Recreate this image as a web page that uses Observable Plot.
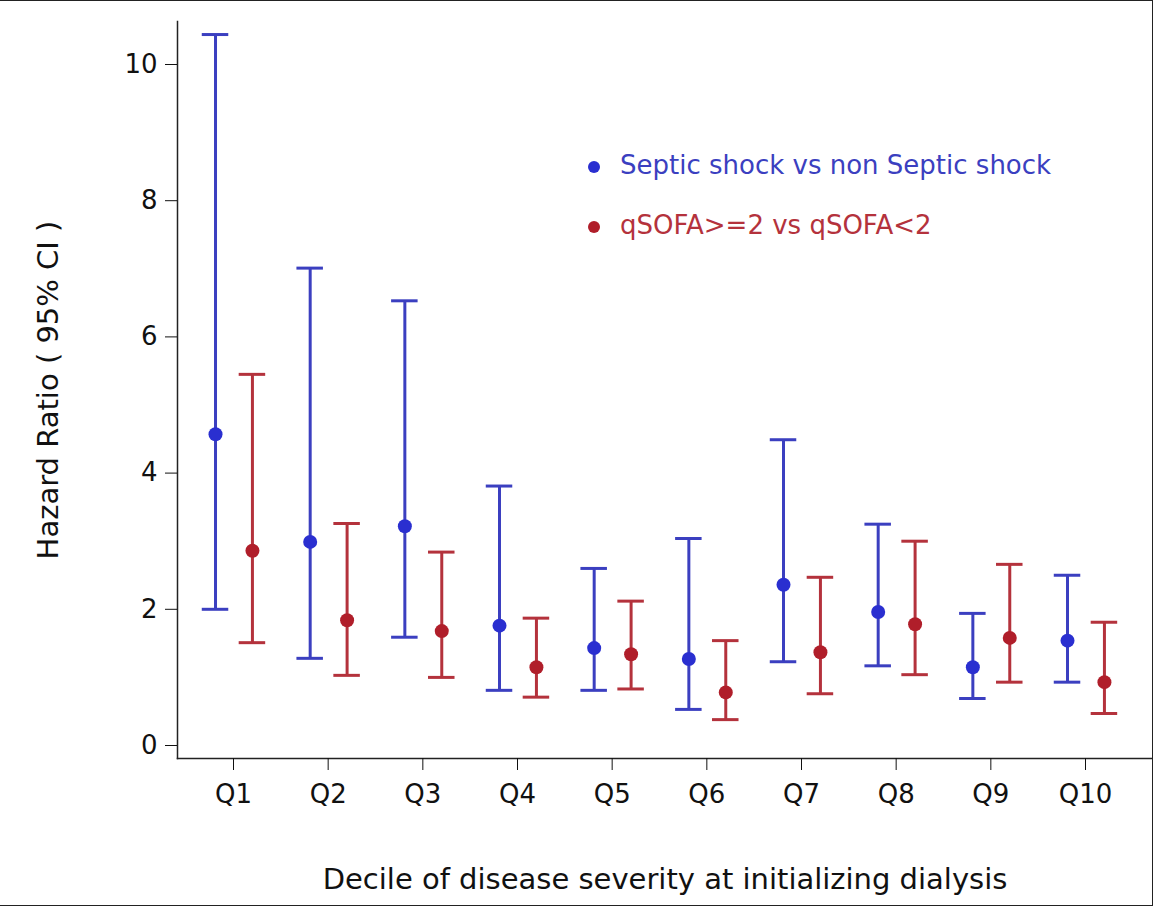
<!DOCTYPE html>
<html><head><meta charset="utf-8">
<script src="https://cdn.jsdelivr.net/npm/d3@7"></script>
<script src="https://cdn.jsdelivr.net/npm/@observablehq/plot@0.6"></script>
<style>
body{margin:0;background:#fff;font-family:"DejaVu Sans",sans-serif}
#wrap{position:relative;width:1152px;height:904px;border:1px solid #222;border-left:none}
#legend{position:absolute;left:588px;top:134px;font-size:26px;line-height:60px}
#legend span.d{display:inline-block;width:12px;height:12px;border-radius:50%;margin-right:20px;vertical-align:middle}
svg text{font-size:26px !important}
svg g[aria-label="x-axis label"] text, svg g[aria-label="y-axis label"] text{font-size:29px !important}
</style></head>
<body><div id="wrap"><div id="chart"></div>
<div id="legend">
<div style="color:#3b3fc0"><span class="d" style="background:#2a2fd0"></span>Septic shock vs non Septic shock</div>
<div style="color:#b4323c"><span class="d" style="background:#b01e2a"></span>qSOFA&gt;=2 vs qSOFA&lt;2</div>
</div></div>
<script>
const deciles = ["Q1","Q2","Q3","Q4","Q5","Q6","Q7","Q8","Q9","Q10"];
const shockHR  = [4.57,2.99,3.22,1.76,1.43,1.27,2.36,1.96,1.15,1.54];
const shockLow = [2.00,1.28,1.59,0.81,0.81,0.53,1.23,1.17,0.69,0.93];
const shockHigh= [10.44,7.01,6.53,3.81,2.60,3.04,4.49,3.25,1.94,2.50];
const qsofaHR  = [2.86,1.84,1.68,1.15,1.34,0.78,1.37,1.78,1.58,0.93];
const qsofaLow = [1.51,1.03,1.00,0.71,0.83,0.38,0.76,1.04,0.93,0.47];
const qsofaHigh= [5.45,3.26,2.84,1.87,2.12,1.54,2.47,3.00,2.66,1.81];

const off = {shock: -0.19, qsofa: 0.2};
const cap = 0.14;
const rows = [];
deciles.forEach((q, i) => {
  rows.push({g:"shock", x:i+1+off.shock, hr:shockHR[i], lo:shockLow[i], hi:shockHigh[i]});
  rows.push({g:"qsofa", x:i+1+off.qsofa, hr:qsofaHR[i], lo:qsofaLow[i], hi:qsofaHigh[i]});
});
const line = {shock:"#3b3fc0", qsofa:"#b4323c"};
const dotc = {shock:"#2a2fd0", qsofa:"#b01e2a"};
const st = d => line[d.g];

const chart = Plot.plot({
  width: 1152, height: 904,
  marginLeft: 177, marginRight: 0, marginTop: 20, marginBottom: 147,
  style: {fontFamily: "DejaVu Sans, sans-serif", color: "#111", background: "#fff"},
  x: {domain: [1,10], range: [233,1085]},
  y: {domain: [0,10], range: [744,63]},
  marks: [
    Plot.frame({anchor: "left", stroke: "#222", strokeWidth: 1.5}),
    Plot.frame({anchor: "bottom", stroke: "#222", strokeWidth: 1.5}),
    Plot.axisY({ticks: [0,2,4,6,8,10], tickSize: 12, tickPadding: 8,
      label: "Hazard Ratio ( 95% CI )", labelAnchor: "center", labelArrow: "none", labelOffset: 140}),
    Plot.axisX({ticks: d3.range(1,11), tickFormat: d => deciles[d-1], tickSize: 12, tickPadding: 14,
      label: "Decile of disease severity at initializing dialysis", labelAnchor: "center", labelArrow: "none", labelOffset: 130}),
    Plot.ruleX(rows, {x: "x", y1: "lo", y2: "hi", stroke: st, strokeWidth: 3}),
    Plot.ruleY(rows, {y: "hi", x1: d => d.x - cap, x2: d => d.x + cap, stroke: st, strokeWidth: 3}),
    Plot.ruleY(rows, {y: "lo", x1: d => d.x - cap, x2: d => d.x + cap, stroke: st, strokeWidth: 3}),
    Plot.dot(rows, {x: "x", y: "hr", r: 7, fill: d => dotc[d.g], stroke: "none"})
  ]
});
document.getElementById("chart").appendChild(chart);
</script></body></html>
